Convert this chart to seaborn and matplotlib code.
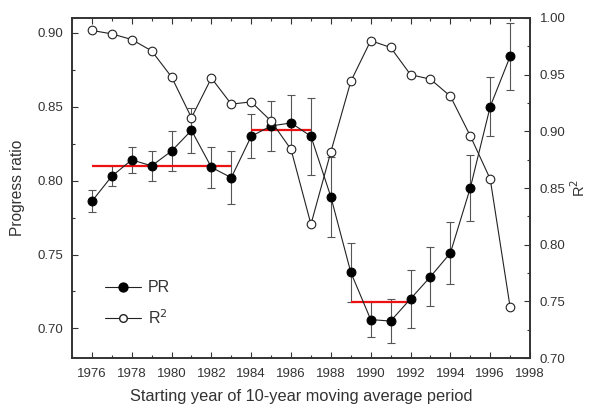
import matplotlib
matplotlib.use("Agg")
import matplotlib.pyplot as plt
import seaborn as sns
import pandas as pd
from matplotlib.ticker import MultipleLocator
from matplotlib.lines import Line2D

years = list(range(1976, 1998))
pr = [0.786, 0.803, 0.814, 0.810, 0.820, 0.834, 0.809, 0.802, 0.830, 0.837, 0.839, 0.830,
      0.789, 0.738, 0.706, 0.705, 0.720, 0.735, 0.751, 0.795, 0.850, 0.884]
pr_err = [0.0075, 0.0066, 0.0087, 0.010, 0.0133, 0.015, 0.0137, 0.0177, 0.015, 0.0167, 0.019, 0.026,
          0.027, 0.020, 0.012, 0.0147, 0.0197, 0.020, 0.021, 0.0225, 0.020, 0.0225]
r2 = [0.989, 0.986, 0.981, 0.971, 0.948, 0.912, 0.947, 0.924, 0.926, 0.909, 0.884, 0.818,
      0.882, 0.944, 0.980, 0.974, 0.950, 0.946, 0.931, 0.896, 0.858, 0.745]
seg_start = [1976, 1984, 1989]
seg_end = [1983, 1987, 1992]
seg_val = [0.810, 0.834, 0.718]

df = pd.DataFrame({"year": years, "pr": pr, "err": pr_err, "r2": r2})

sns.set_theme(style="ticks")
plt.rcParams['font.family'] = ['Liberation Sans', 'DejaVu Sans']
plt.rcParams['text.color'] = '#333333'
plt.rcParams['axes.labelcolor'] = '#333333'
plt.rcParams['xtick.color'] = '#333333'
plt.rcParams['ytick.color'] = '#333333'

fig = plt.figure(figsize=(5.92, 4.08), dpi=100)
ax = fig.add_axes([0.1216, 0.1225, 0.8953 - 0.1216, 0.9559 - 0.1225])

ax.errorbar(df["year"], df["pr"], yerr=df["err"], fmt="none", ecolor="#555555",
            elinewidth=0.8, capsize=3, capthick=0.8, zorder=1)
ax.hlines(seg_val, seg_start, seg_end, colors="#ee1111", linewidth=1.6, zorder=2)
sns.lineplot(data=df, x="year", y="pr", ax=ax, color="#222222", linewidth=0.8,
             marker="o", markersize=6.4, markerfacecolor="black", markeredgecolor="black",
             zorder=3, legend=False)

ax2 = ax.twinx()
sns.lineplot(data=df, x="year", y="r2", ax=ax2, color="#222222", linewidth=0.8,
             marker="o", markersize=6.2, markerfacecolor="white", markeredgecolor="#222222",
             markeredgewidth=0.8, legend=False)

ax.set_xlim(1975, 1998)
ax.set_ylim(0.68, 0.91)
ax2.set_ylim(0.70, 1.00)
ax.xaxis.set_major_locator(MultipleLocator(2))
ax.xaxis.set_minor_locator(MultipleLocator(1))
ax.yaxis.set_major_locator(MultipleLocator(0.05))
ax.yaxis.set_minor_locator(MultipleLocator(0.025))
ax2.yaxis.set_major_locator(MultipleLocator(0.05))
ax2.yaxis.set_minor_locator(MultipleLocator(0.025))
ax.yaxis.set_major_formatter(plt.FormatStrFormatter('%.2f'))
ax2.yaxis.set_major_formatter(plt.FormatStrFormatter('%.2f'))

ax.tick_params(axis='x', which='both', direction='in', top=True, labelsize=9.5, pad=7)
ax.tick_params(axis='y', which='both', direction='in', left=True, right=False, labelsize=9.5, pad=6)
ax.tick_params(which='major', length=4, width=0.8)
ax.tick_params(which='minor', length=2.5, width=0.8)
ax2.tick_params(axis='y', which='both', direction='in', labelsize=9.5, pad=7)
ax2.tick_params(which='major', length=4, width=0.8)
ax2.tick_params(which='minor', length=2.5, width=0.8)

for a in (ax, ax2):
    for s in a.spines.values():
        s.set_visible(True)
        s.set_linewidth(1.2)
        s.set_color('#333333')

ax.set_xlabel("Starting year of 10-year moving average period", fontsize=11.8, labelpad=7)
ax.set_ylabel("Progress ratio", fontsize=11.2, labelpad=9)
ax2.set_ylabel("R$^2$", fontsize=10.5, rotation=90, labelpad=3)

handles = [
    Line2D([], [], color="#222222", lw=0.8, marker="o", markersize=6.4,
           markerfacecolor="black", markeredgecolor="black"),
    Line2D([], [], color="#222222", lw=0.8, marker="o", markersize=5.5,
           markerfacecolor="white", markeredgecolor="#222222"),
]
ax2.legend(handles, ["PR", "R$^2$"], loc="lower left", bbox_to_anchor=(0.04, 0.05),
           frameon=False, fontsize=11.5, handlelength=2.3, handletextpad=0.4, labelspacing=0.8)

fig.savefig("out.png", dpi=100)
